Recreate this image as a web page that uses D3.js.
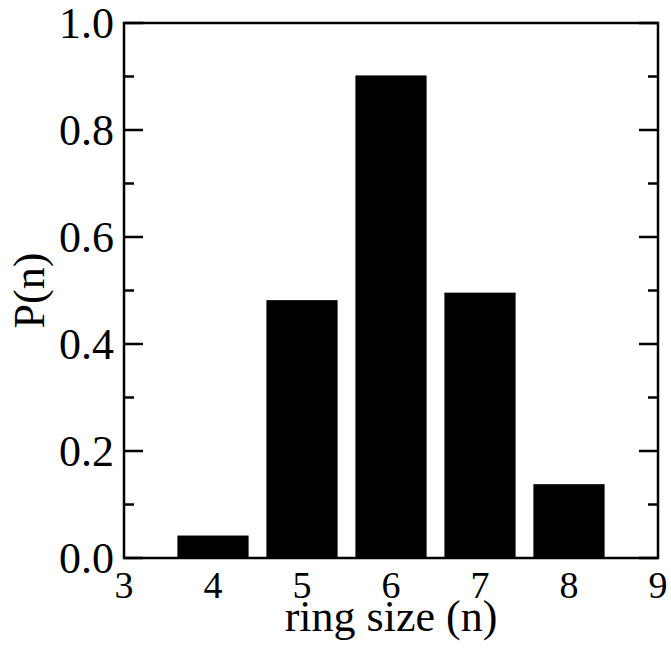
<!DOCTYPE html>
<html>
<head>
<meta charset="utf-8">
<script src="https://cdn.jsdelivr.net/npm/d3@7"></script>
<style>
  body { margin: 0; background: #fff; }
  svg { display: block; }
  text { font-family: "Liberation Serif", "DejaVu Serif", serif; fill: #000; }
</style>
</head>
<body>
<svg id="chart" width="671" height="653"></svg>
<script>
// ring size distribution
const ringSizes = [4, 5, 6, 7, 8];
const probs = [0.042, 0.482, 0.902, 0.496, 0.138];
const xTicks = [3, 4, 5, 6, 7, 8, 9];
const yTicks = [0.0, 0.2, 0.4, 0.6, 0.8, 1.0];
const yMinor = [0.1, 0.3, 0.5, 0.7, 0.9];

const svg = d3.select("#chart");
const plotL = 124, plotR = 658, plotT = 23, plotB = 558;

const x = d3.scaleLinear().domain([3, 9]).range([plotL, plotR]);
const y = d3.scaleLinear().domain([0, 1]).range([plotB, plotT]);
const barW = x(3.8) - x(3);

// bars
svg.selectAll(".bar")
  .data(ringSizes)
  .enter()
  .append("rect")
  .attr("class", "bar")
  .attr("x", (d) => x(d) - barW / 2)
  .attr("y", (d, i) => y(probs[i]))
  .attr("width", barW)
  .attr("height", (d, i) => y(0) - y(probs[i]))
  .attr("fill", "#000");

// frame
svg.append("rect")
  .attr("x", plotL).attr("y", plotT)
  .attr("width", plotR - plotL).attr("height", plotB - plotT)
  .attr("fill", "none")
  .attr("stroke", "#000")
  .attr("stroke-width", 2.5);

// y ticks, left and right, pointing inward
const tickG = svg.append("g").attr("stroke", "#000").attr("stroke-width", 2.5);
yTicks.concat(yMinor).forEach(v => {
  const len = yTicks.includes(v) ? 19 : 10;
  tickG.append("line").attr("x1", plotL).attr("x2", plotL + len).attr("y1", y(v)).attr("y2", y(v));
  tickG.append("line").attr("x1", plotR).attr("x2", plotR - len).attr("y1", y(v)).attr("y2", y(v));
});

// y tick labels
svg.selectAll(".ylab")
  .data(yTicks)
  .enter()
  .append("text")
  .attr("x", plotL - 10)
  .attr("y", d => y(d))
  .attr("dy", "0.34em")
  .attr("text-anchor", "end")
  .attr("font-size", 44)
  .text(d => d3.format(".1f")(d));

// x tick labels
svg.selectAll(".xlab")
  .data(xTicks)
  .enter()
  .append("text")
  .attr("x", d => x(d))
  .attr("y", 598)
  .attr("text-anchor", "middle")
  .attr("font-size", 38)
  .text(d => d);

// axis titles
svg.append("text")
  .attr("x", (plotL + plotR) / 2)
  .attr("y", 631)
  .attr("text-anchor", "middle")
  .attr("font-size", 44)
  .text("ring size (n)");

svg.append("text")
  .attr("transform", `translate(44,${(plotT + plotB) / 2}) rotate(-90)`)
  .attr("text-anchor", "middle")
  .attr("font-size", 44)
  .text("P(n)");
</script>
</body>
</html>
